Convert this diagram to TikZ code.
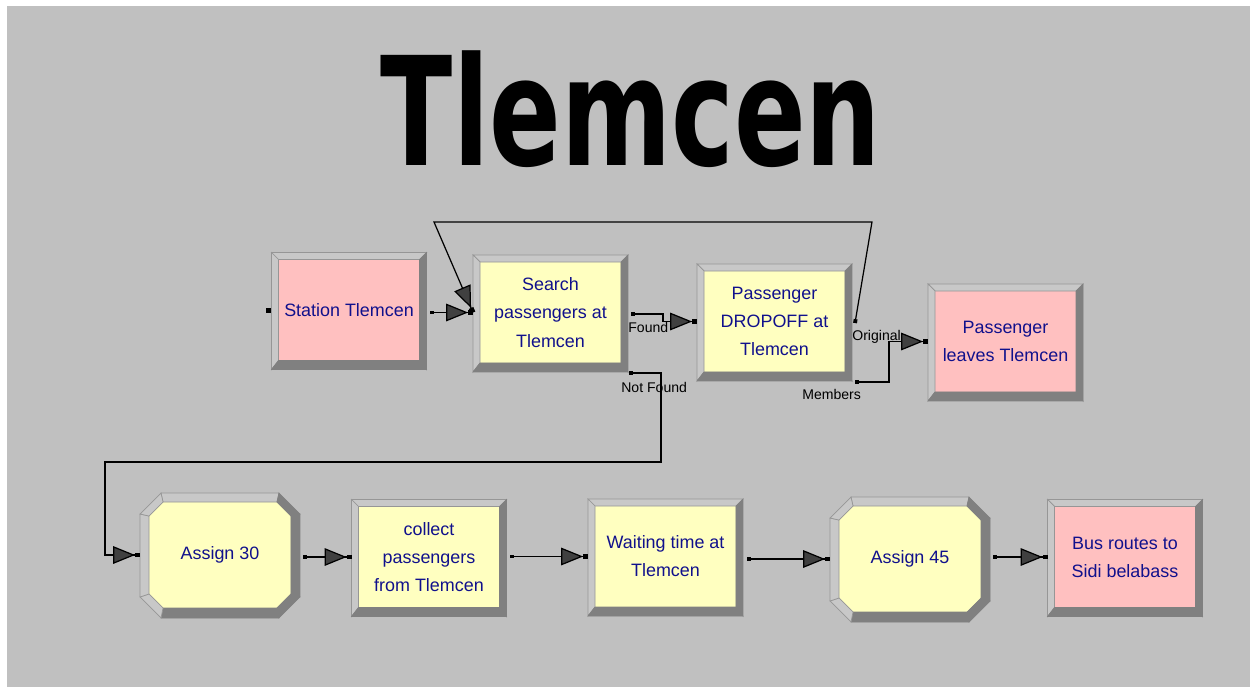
\documentclass[tikz,border=0pt]{standalone}
\usepackage{fontspec}
\setmainfont{Liberation Sans}
\newfontfamily\titlefont{DejaVu Sans}
\usetikzlibrary{arrows.meta, calc, backgrounds}

\definecolor{canvas}{RGB}{192,192,192}
\definecolor{entpink}{RGB}{255,192,192}
\definecolor{procyellow}{RGB}{255,255,192}
\definecolor{textnavy}{RGB}{16,16,140}
\definecolor{bevlight}{RGB}{200,200,200}
\definecolor{bevline}{RGB}{150,150,150}
\definecolor{bevdark}{RGB}{128,128,128}
\definecolor{tipgray}{RGB}{64,64,64}

\tikzset{
  modbox/.style={rectangle, inner sep=0pt, outer sep=0pt, minimum width=2.82cm,
    minimum height=2.02cm, align=center, text=textnavy,
    font=\fontsize{10.2}{16}\selectfont},
  entbox/.style={modbox, fill=entpink},
  procbox/.style={modbox, fill=procyellow},
  assignbox/.style={modbox, minimum width=2.84cm, minimum height=2.12cm},
  flow/.style={line width=0.7pt,
    {Square[length=2.2pt,width=2.2pt]}-{Triangle[length=12.5pt,width=10pt,fill=tipgray]Square[length=2.8pt,width=2.8pt]}},
  portlabel/.style={font=\fontsize{8}{9}\selectfont, inner sep=0pt, anchor=west},
  lightband/.style={fill=bevlight, draw=bevline, line width=0.4pt},
  darkband/.style={fill=bevdark, draw=bevdark, line width=0.4pt},
}

% rahmen fuer rechteckige module
\newcommand{\rectbevel}[1]{%
  \coordinate (o-nw) at ($(#1.north west)+(-7,-7)$);
  \coordinate (o-ne) at ($(#1.north east)+(7,-7)$);
  \coordinate (o-se) at ($(#1.south east)+(7,9)$);
  \coordinate (o-sw) at ($(#1.south west)+(-7,9)$);
  \path[lightband] (o-nw) -- (o-ne) -- (#1.north east) -- (#1.north west) -- cycle;
  \path[lightband] (o-nw) -- (#1.north west) -- (#1.south west) -- (o-sw) -- cycle;
  \path[darkband] (o-ne) -- (o-se) -- (#1.south east) -- (#1.north east) -- cycle;
  \path[darkband] (o-sw) -- (#1.south west) -- (#1.south east) -- (o-se) -- cycle;
}

% achteckige assign-module
\newcommand{\octbevel}[2]{%
  \coordinate (i-1) at ($(#1.north west)+(14,0)$);
  \coordinate (i-2) at ($(#1.north east)+(-14,0)$);
  \coordinate (i-3) at ($(#1.north east)+(0,14)$);
  \coordinate (i-4) at ($(#1.south east)+(0,-14)$);
  \coordinate (i-5) at ($(#1.south east)+(-14,0)$);
  \coordinate (i-6) at ($(#1.south west)+(14,0)$);
  \coordinate (i-7) at ($(#1.south west)+(0,-14)$);
  \coordinate (i-8) at ($(#1.north west)+(0,14)$);
  \coordinate (o-1) at ($(#1.north west)+(-9,-9)+(21,0)$);
  \coordinate (o-2) at ($(#1.north east)+(9,-9)+(-21,0)$);
  \coordinate (o-3) at ($(#1.north east)+(9,-9)+(0,21)$);
  \coordinate (o-4) at ($(#1.south east)+(9,10)+(0,-21)$);
  \coordinate (o-5) at ($(#1.south east)+(9,10)+(-21,0)$);
  \coordinate (o-6) at ($(#1.south west)+(-9,10)+(21,0)$);
  \coordinate (o-7) at ($(#1.south west)+(-9,10)+(0,-21)$);
  \coordinate (o-8) at ($(#1.north west)+(-9,-9)+(0,21)$);
  \begin{scope}[on background layer]
    \fill[#2] (i-1) -- (i-2) -- (i-3) -- (i-4) -- (i-5) -- (i-6) -- (i-7) -- (i-8) -- cycle;
  \end{scope}
  \path[lightband] (o-1) -- (o-2) -- (i-2) -- (i-1) -- cycle;
  \path[darkband] (o-2) -- (o-3) -- (i-3) -- (i-2) -- cycle;
  \path[darkband] (o-3) -- (o-4) -- (i-4) -- (i-3) -- cycle;
  \path[darkband] (o-4) -- (o-5) -- (i-5) -- (i-4) -- cycle;
  \path[darkband] (o-5) -- (o-6) -- (i-6) -- (i-5) -- cycle;
  \path[lightband] (o-6) -- (o-7) -- (i-7) -- (i-6) -- cycle;
  \path[lightband] (o-7) -- (o-8) -- (i-8) -- (i-7) -- cycle;
  \path[lightband] (o-8) -- (o-1) -- (i-1) -- (i-8) -- cycle;
}

\begin{document}
\begin{tikzpicture}[x=0.02cm, y=-0.02cm]
    % hintergrund
    \begin{scope}[on background layer]
        \fill[white] (0,0) rectangle (1250,687);
        \fill[canvas] (7,6) rectangle (1250,687);
    \end{scope}
    \useasboundingbox (0,0) rectangle (1250,687);

    % titel
    \node[font=\titlefont\bfseries\fontsize{86}{90}\selectfont, anchor=base,
        xscale=0.70, inner sep=0pt] (title) at (631,165) {Tlemcen};

    % obere reihe
    \node[entbox] (station) at (349,310) {Station Tlemcen};
    \node[procbox] (search) at (550.5,312.5) {Search\\passengers at\\Tlemcen};
    \node[procbox] (dropoff) at (774.5,321.5) {Passenger\\DROPOFF at\\Tlemcen};
    \node[entbox] (leaves) at (1005.5,341.5) {Passenger\\leaves Tlemcen};

    % untere reihe
    \node[assignbox] (assign30) at (220,555) {Assign 30};
    \node[procbox] (collect) at (429,557) {collect\\passengers\\from Tlemcen};
    \node[procbox] (waiting) at (665.5,556.5) {Waiting time at\\Tlemcen};
    \node[assignbox] (assign45) at (910,559) {Assign 45};
    \node[entbox] (bus) at (1125,557) {Bus routes to\\Sidi belabass};

    \foreach \n in {station, search, dropoff, leaves, collect, waiting, bus} {
        \rectbevel{\n}
        \coordinate (\n-in) at ($(\n.west)+(-7,0)$);
        \coordinate (\n-out) at ($(\n.east)+(11,0)$);
    }
    \foreach \n in {assign30, assign45} {
        \octbevel{\n}{procyellow}
        \coordinate (\n-in) at ($(\n.west)+(-9,0)$);
        \coordinate (\n-out) at ($(\n.east)+(12,0)$);
    }

    % ausgaenge
    \coordinate (found) at ($(search.east)+(10,1.5)$);
    \coordinate (notfound) at ($(search.south east)+(8,10)$);
    \coordinate (original) at ($(dropoff.east)+(10,1.5)$);
    \coordinate (members) at ($(dropoff.south east)+(10,10)$);

    \fill ($(station-in)+(-6,-2.5)$) rectangle ($(station-in)+(-1,2.5)$);

    % verbindungen
    \draw[flow] (station-out |- search-in) -- (search-in);
    \draw[flow] (found) -- ++(32,0) |- (dropoff-in);
    \draw[flow] (original) -- ++(17,-101) -- ++(-438,0) -- (search-in);
    \draw[flow] (members) -- ++(34,0) |- (leaves-in);
    \draw[flow] (notfound) -- ++(32,0) -- ++(0,89) -| ($(assign30-in)+(-35,0)$) -- (assign30-in);
    \draw[flow] (assign30-out |- collect-in) -- (collect-in);
    \draw[flow] (collect-out |- waiting-in) -- (waiting-in);
    \draw[flow] (waiting-out |- assign45-in) -- (assign45-in);
    \draw[flow] (assign45-out |- bus-in) -- (bus-in);

    % beschriftungen
    \node[portlabel] (found-lbl) at ($(found)+(-3,13)$) {Found};
    \node[portlabel] (notfound-lbl) at ($(notfound)+(-8,14)$) {Not Found};
    \node[portlabel] (original-lbl) at ($(original)+(-3,14)$) {Original};
    \node[portlabel] (members-lbl) at ($(members)+(-53,12)$) {Members};
\end{tikzpicture}
\end{document}
